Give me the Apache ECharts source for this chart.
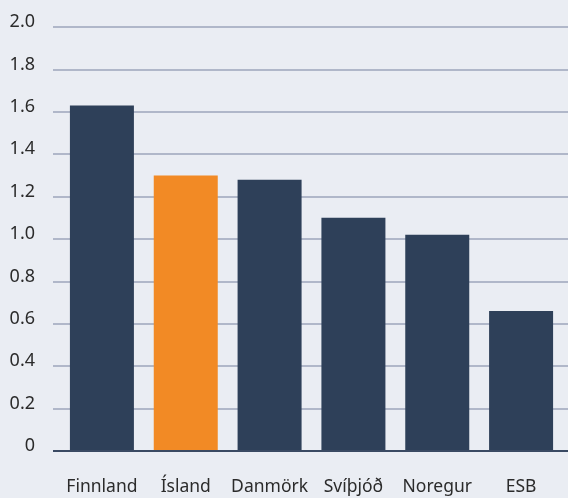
<!DOCTYPE html>
<html>
<head>
<meta charset="utf-8">
<script src="https://cdn.jsdelivr.net/npm/echarts@6/dist/echarts.min.js"></script>
<style>
  html, body { margin: 0; padding: 0; background: #eaedf3; }
  #chart { width: 568px; height: 498px; }
</style>
</head>
<body>
<div id="chart"></div>
<script>
// gögn
const categories = ['Finnland', 'Ísland', 'Danmörk', 'Svíþjóð', 'Noregur', 'ESB']
const values = [1.63, 1.30, 1.28, 1.10, 1.02, 0.66]
const highlight = 'Ísland'

const FONT = '"Noto Sans", "Open Sans", sans-serif'
const chart = echarts.init(document.getElementById('chart'))

const option = {
  backgroundColor: '#eaedf3',
  animation: false,
  grid: [
    { left: 60, right: 5, top: 27, bottom: 47 },
    { left: 53, right: 0, top: 27, bottom: 47 }
  ],
  xAxis: [
    {
      type: 'category',
      gridIndex: 0,
      data: categories,
      axisTick: { show: false },
      axisLine: { show: false },
      axisLabel: { color: '#2b2b2b', fontSize: 17.5, fontFamily: FONT, margin: 27, interval: 0 }
    },
    { type: 'value', gridIndex: 1, show: false }
  ],
  yAxis: [
    {
      type: 'value',
      gridIndex: 0,
      min: 0,
      max: 2,
      interval: 0.2,
      axisLine: { show: false },
      axisTick: { show: false },
      splitLine: { show: false },
      axisLabel: {
        color: '#2b2b2b',
        fontSize: 18,
        fontFamily: FONT,
        margin: 25,
        verticalAlign: 'bottom',
        lineHeight: 10,
        formatter: (v) => (v === 0 ? '0' : v.toFixed(1))
      }
    },
    {
      type: 'value',
      gridIndex: 1,
      min: 0,
      max: 2,
      interval: 0.2,
      axisLine: { show: false },
      axisTick: { show: false },
      axisLabel: { show: false },
      splitLine: { lineStyle: { color: '#b0b7c9', width: 2 } }
    }
  ],
  series: [
    {
      type: 'bar',
      xAxisIndex: 0,
      yAxisIndex: 0,
      barWidth: 64,
      z: 3,
      data: values.map((v, i) => ({
        value: v,
        itemStyle: { color: categories[i] === highlight ? '#f28a25' : '#2e4059' }
      }))
    },
    {
      // grunnlína
      type: 'line',
      xAxisIndex: 1,
      yAxisIndex: 1,
      data: [],
      markLine: {
        silent: true,
        symbol: 'none',
        label: { show: false },
        lineStyle: { color: '#3a4a63', width: 2, type: 'solid' },
        data: [{ yAxis: 0 }]
      }
    }
  ]
}
chart.setOption(option)
</script>
</body>
</html>
